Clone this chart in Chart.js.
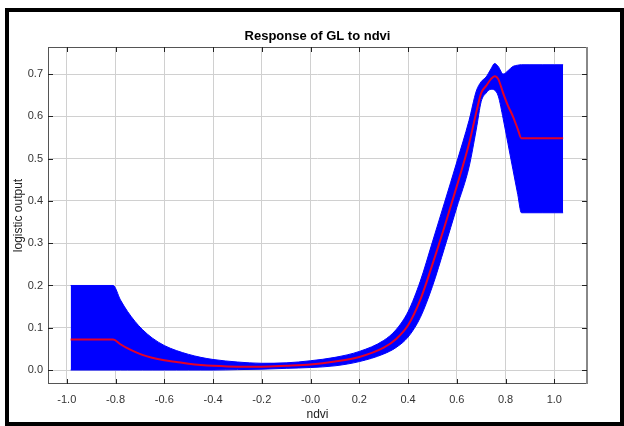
<!DOCTYPE html>
<html>
<head>
<meta charset="utf-8">
<script src="https://cdn.jsdelivr.net/npm/chart.js"></script>
<style>
  html, body { margin: 0; padding: 0; background: #fff; }
  canvas { display: block; }
</style>
</head>
<body>
<canvas id="chart" width="624" height="426"></canvas>
<script>
// response curve of GL to ndvi
const ndvi = [-0.984, -0.81, -0.78, -0.75, -0.72, -0.69, -0.65, -0.6, -0.55, -0.5, -0.45, -0.4, -0.3, -0.2, -0.1, 0.0,
  0.1, 0.2, 0.3, 0.35, 0.4, 0.45, 0.5, 0.55, 0.6, 0.65, 0.68, 0.7, 0.72, 0.74, 0.755, 0.77,
  0.79, 0.81, 0.83, 0.85, 0.865, 0.9, 0.95, 1.0, 1.036];

const meanResponse = [0.072, 0.072, 0.061, 0.051, 0.043, 0.036, 0.029, 0.023, 0.019, 0.015, 0.012, 0.010, 0.008, 0.008, 0.010, 0.013,
  0.020, 0.031, 0.053, 0.073, 0.106, 0.166, 0.250, 0.340, 0.435, 0.535, 0.610, 0.655, 0.672, 0.688, 0.695, 0.688,
  0.655, 0.625, 0.600, 0.570, 0.548, 0.548, 0.548, 0.548, 0.548];

const upperBand = [0.200, 0.200, 0.166, 0.138, 0.115, 0.096, 0.076, 0.058, 0.046, 0.037, 0.030, 0.025, 0.019, 0.016, 0.017, 0.022,
  0.030, 0.044, 0.070, 0.095, 0.138, 0.210, 0.303, 0.397, 0.492, 0.590, 0.660, 0.682, 0.693, 0.712, 0.725, 0.718,
  0.700, 0.708, 0.718, 0.721, 0.722, 0.722, 0.722, 0.722, 0.722];

const lowerBand = [0.000, 0.000, 0.000, 0.000, 0.000, 0.000, 0.000, 0.000, 0.000, 0.000, 0.000, 0.000, 0.001, 0.002, 0.004, 0.006,
  0.010, 0.020, 0.038, 0.053, 0.078, 0.124, 0.198, 0.290, 0.385, 0.480, 0.570, 0.635, 0.655, 0.664, 0.662, 0.648,
  0.595, 0.535, 0.475, 0.415, 0.372, 0.372, 0.372, 0.372, 0.372];

const xTickLabels = ["-1.0", "-0.8", "-0.6", "-0.4", "-0.2", "-0.0", "0.2", "0.4", "0.6", "0.8", "1.0"];
const yTickLabels = ["0.0", "0.1", "0.2", "0.3", "0.4", "0.5", "0.6", "0.7"];

const chartTitle = "Response of GL to ndvi";
const xTitle = "ndvi";
const yTitle = "logistic output";

const toPoints = ys => ndvi.map((x, i) => ({ x: x, y: ys[i] }));

const frameAndTicks = {
  id: "frameAndTicks",
  beforeDraw(chart) {
    const ctx = chart.ctx;
    ctx.save();
    ctx.fillStyle = "#fff";
    ctx.fillRect(0, 0, chart.width, chart.height);
    ctx.restore();
  },
  afterDraw(chart) {
    const ctx = chart.ctx;
    const a = chart.chartArea;
    const xs = chart.scales.x, ys = chart.scales.y;
    ctx.save();
    // plot box
    ctx.strokeStyle = "#555";
    ctx.lineWidth = 1;
    ctx.strokeRect(a.left + 0.5, a.top + 0.5, a.right - a.left - 1, a.bottom - a.top - 1);
    ctx.strokeStyle = "#888";
    ctx.lineWidth = 2;
    ctx.beginPath();
    ctx.moveTo(a.right, a.top);
    ctx.lineTo(a.right, a.bottom);
    ctx.stroke();
    // inside tick marks on all four sides
    ctx.strokeStyle = "#222";
    ctx.lineWidth = 1;
    ctx.beginPath();
    xs.ticks.forEach(t => {
      const px = Math.round(xs.getPixelForValue(t.value)) + 0.5;
      ctx.moveTo(px, a.bottom); ctx.lineTo(px, a.bottom - 5);
      ctx.moveTo(px, a.top); ctx.lineTo(px, a.top + 5);
    });
    ys.ticks.forEach(t => {
      const py = Math.round(ys.getPixelForValue(t.value)) + 0.5;
      ctx.moveTo(a.left, py); ctx.lineTo(a.left + 5, py);
      ctx.moveTo(a.right, py); ctx.lineTo(a.right - 5, py);
    });
    ctx.stroke();
    // title
    ctx.fillStyle = "#000";
    ctx.font = "bold 13px 'Liberation Sans', Arial, sans-serif";
    ctx.textAlign = "center";
    ctx.textBaseline = "middle";
    ctx.fillText(chartTitle, (a.left + a.right) / 2, 36);
    // outer frame
    ctx.strokeStyle = "#000";
    ctx.lineWidth = 4;
    ctx.strokeRect(7, 10, 615, 414);
    ctx.restore();
  }
};

new Chart(document.getElementById("chart").getContext("2d"), {
  type: "line",
  data: {
    datasets: [
      {
        label: "mean",
        data: toPoints(meanResponse),
        borderColor: "rgb(228,0,40)",
        borderWidth: 2,
        pointRadius: 0,
        cubicInterpolationMode: "monotone",
        fill: false
      },
      {
        label: "upper",
        data: toPoints(upperBand),
        borderColor: "#0000ff",
        borderWidth: 1,
        backgroundColor: "#0000ff",
        pointRadius: 0,
        cubicInterpolationMode: "monotone",
        fill: "+1"
      },
      {
        label: "lower",
        data: toPoints(lowerBand),
        borderColor: "#0000ff",
        borderWidth: 1,
        pointRadius: 0,
        cubicInterpolationMode: "monotone",
        fill: false
      }
    ]
  },
  options: {
    responsive: false,
    animation: false,
    layout: { padding: { top: 47, right: 37, bottom: 0, left: 0 } },
    plugins: {
      legend: { display: false },
      tooltip: { enabled: false },
      title: { display: false }
    },
    scales: {
      x: {
        type: "linear",
        min: -1.077,
        max: 1.134,
        afterFit: s => { s.height = 42; },
        grid: { color: "#d0d0d0", drawTicks: false },
        border: { display: false },
        ticks: {
          stepSize: 0.2,
          includeBounds: false,
          padding: 9,
          color: "#333",
          font: { family: "'Liberation Sans', Arial, sans-serif", size: 11 },
          callback: v => xTickLabels[Math.round((v + 1) / 0.2)],
          maxRotation: 0
        },
        title: {
          display: true,
          text: xTitle,
          color: "#222",
          font: { family: "'Liberation Sans', Arial, sans-serif", size: 12 },
          padding: { top: 0, bottom: 4 }
        }
      },
      y: {
        min: -0.033,
        max: 0.764,
        afterFit: s => { s.width = 48; },
        grid: { color: "#d0d0d0", drawTicks: false },
        border: { display: false },
        ticks: {
          stepSize: 0.1,
          includeBounds: false,
          padding: 5,
          color: "#333",
          font: { family: "'Liberation Sans', Arial, sans-serif", size: 11 },
          callback: v => yTickLabels[Math.round(v / 0.1)]
        },
        title: {
          display: true,
          text: yTitle,
          color: "#222",
          font: { family: "'Liberation Sans', Arial, sans-serif", size: 12 },
          padding: { top: 11, bottom: 0 }
        }
      }
    }
  },
  plugins: [frameAndTicks]
});
</script>
</body>
</html>
